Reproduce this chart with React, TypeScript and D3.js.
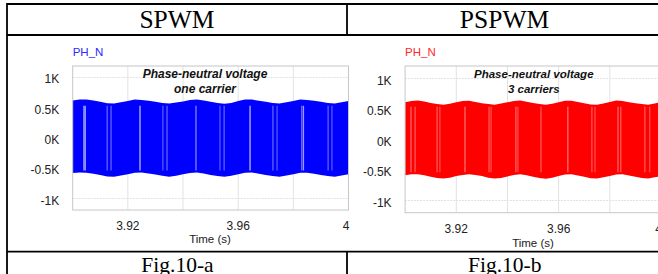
import React, { useEffect, useRef } from "react";
import * as d3 from "d3";

const times = [
  3.9, 3.9025, 3.905, 3.9075, 3.91, 3.9125, 3.915, 3.9175, 3.92, 3.9225,
  3.925, 3.9275, 3.93, 3.9325, 3.935, 3.9375, 3.94, 3.9425, 3.945, 3.9475,
  3.95, 3.9525, 3.955, 3.9575, 3.96, 3.9625, 3.965, 3.9675, 3.97, 3.9725,
  3.975, 3.9775, 3.98, 3.9825, 3.985, 3.9875, 3.99, 3.9925, 3.995, 3.9975, 4.0,
];

// SPWM phase-neutral voltage, upper / lower envelope (kV)
const spwmTop = [
  0.62, 0.635, 0.635, 0.62, 0.6, 0.575, 0.57, 0.59, 0.61, 0.635,
  0.63, 0.615, 0.6, 0.58, 0.57, 0.585, 0.605, 0.63, 0.635, 0.62,
  0.6, 0.58, 0.565, 0.58, 0.61, 0.635, 0.635, 0.615, 0.6, 0.58,
  0.57, 0.59, 0.61, 0.635, 0.63, 0.615, 0.6, 0.58, 0.57, 0.59, 0.61,
];
const spwmBot = [
  -0.58, -0.57, -0.575, -0.59, -0.61, -0.635, -0.64, -0.62, -0.6, -0.575,
  -0.57, -0.585, -0.605, -0.625, -0.64, -0.625, -0.6, -0.58, -0.57, -0.585,
  -0.61, -0.63, -0.64, -0.625, -0.6, -0.575, -0.57, -0.59, -0.61, -0.63,
  -0.64, -0.62, -0.6, -0.575, -0.575, -0.59, -0.61, -0.63, -0.64, -0.62, -0.6,
];

// PSPWM (3 carriers)
const pspwmTop = [
  0.61, 0.63, 0.64, 0.625, 0.6, 0.58, 0.57, 0.585, 0.61, 0.63,
  0.635, 0.615, 0.595, 0.58, 0.57, 0.59, 0.61, 0.63, 0.64, 0.62,
  0.6, 0.58, 0.57, 0.585, 0.61, 0.635, 0.635, 0.615, 0.595, 0.575,
  0.57, 0.59, 0.615, 0.64, 0.63, 0.61, 0.595, 0.58, 0.57, 0.59, 0.61,
];
const pspwmBot = [
  -0.585, -0.57, -0.57, -0.585, -0.61, -0.63, -0.64, -0.625, -0.6, -0.58,
  -0.57, -0.58, -0.6, -0.625, -0.64, -0.63, -0.605, -0.58, -0.57, -0.585,
  -0.61, -0.63, -0.645, -0.625, -0.6, -0.575, -0.57, -0.59, -0.61, -0.635,
  -0.64, -0.62, -0.6, -0.575, -0.57, -0.59, -0.61, -0.63, -0.64, -0.62, -0.6,
];

// lighter vertical gaps in the PWM trains (time, strength)
const spwmGapT = [
  3.9041, 3.9046, 3.9125, 3.9139, 3.9244, 3.9327, 3.9342, 3.9447, 3.9534,
  3.9549, 3.9643, 3.9726, 3.9741, 3.9831, 3.9837, 3.9926, 3.994,
];
const spwmGapA = [
  0.85, 0.6, 0.45, 0.45, 0.85, 0.4, 0.45, 0.6, 0.4, 0.45, 0.85, 0.45, 0.4,
  0.6, 0.6, 0.45, 0.4,
];
const pspwmGapT = [
  3.9023, 3.9039, 3.9125, 3.9136, 3.9234, 3.9328, 3.9336, 3.9433, 3.9441,
  3.9531, 3.9636, 3.973, 3.9742, 3.9832, 3.9843, 3.9937, 3.9956,
];
const pspwmGapA = [
  0.45, 0.4, 0.4, 0.35, 0.5, 0.4, 0.35, 0.45, 0.35, 0.4, 0.5, 0.4, 0.35,
  0.45, 0.4, 0.4, 0.35,
];

const xGrid = [3.92, 3.94, 3.96, 3.98];
const xTicks = [3.92, 3.96, 4];
const xTickLabels = ["3.92", "3.96", "4"];
const yTicks = [1, 0.5, 0, -0.5, -1];
const yTickLabels = ["1K", "0.5K", "0K", "-0.5K", "-1K"];

const SANS = "'Liberation Sans', Arial, sans-serif";
const SERIF = "'Liberation Serif', 'Times New Roman', serif";

interface PanelCfg {
  left: number; right: number; top: number; bottom: number;
  yDomain: [number, number];
  color: string; labelColor: string;
  top_: number[]; bot: number[]; gapT: number[]; gapA: number[];
  title: [string, string]; titleX: number; titleSize: number;
  tickBase: number; timeBase: number; timeX: number;
}

const panels: PanelCfg[] = [
  {
    left: 72.7, right: 348.5, top: 66, bottom: 210, yDomain: [-1.19, 1.19],
    color: "#0000ff", labelColor: "#2a2aff",
    top_: spwmTop, bot: spwmBot, gapT: spwmGapT, gapA: spwmGapA,
    title: ["Phase-neutral voltage", "one carrier"], titleX: 205, titleSize: 12,
    tickBase: 229.5, timeBase: 242.5, timeX: 210,
  },
  {
    left: 405.1, right: 661, top: 66, bottom: 212.7, yDomain: [-1.2, 1.205],
    color: "#ff0000", labelColor: "#ff2a2a",
    top_: pspwmTop, bot: pspwmBot, gapT: pspwmGapT, gapA: pspwmGapA,
    title: ["Phase-neutral voltage", "3 carriers"], titleX: 533.8, titleSize: 11.5,
    tickBase: 232.5, timeBase: 246.5, timeX: 533,
  },
];

function drawPanel(svg: any, p: PanelCfg) {
  const x = d3.scaleLinear().domain([3.9, 4.0]).range([p.left, p.right]);
  const y = d3.scaleLinear().domain(p.yDomain).range([p.bottom, p.top]);
  const g = svg.append("g");

  // grid
  g.selectAll(".gx").data(xGrid).join("line")
    .attr("x1", (d: number) => x(d)).attr("x2", (d: number) => x(d))
    .attr("y1", p.top).attr("y2", p.bottom)
    .attr("stroke", "#e2e2e2").attr("stroke-width", 1);
  g.selectAll(".gy").data(yTicks).join("line")
    .attr("x1", p.left).attr("x2", p.right)
    .attr("y1", (d: number) => y(d)).attr("y2", (d: number) => y(d))
    .attr("stroke", "#e2e2e2").attr("stroke-width", 1)
    .attr("stroke-dasharray", "2,1");

  // the PWM train, drawn as a filled band between the envelopes
  const area = d3.area<number>()
    .x((d, i) => x(times[i]))
    .y0((d, i) => y(p.bot[i]))
    .y1((d) => y(d));
  g.append("path").datum(p.top_).attr("d", area).attr("fill", p.color);

  g.selectAll(".gap").data(p.gapT).join("line")
    .attr("x1", (d: number) => x(d)).attr("x2", (d: number) => x(d))
    .attr("y1", (d: number) => y(d3.min(p.top_)!) + 2)
    .attr("y2", (d: number) => y(d3.max(p.bot)!) - 2)
    .attr("stroke", "#fff").attr("stroke-width", 1.1)
    .attr("stroke-opacity", (d: number, i: number) => p.gapA[i]);

  // frame
  g.append("rect")
    .attr("x", p.left).attr("y", p.top)
    .attr("width", p.right - p.left).attr("height", p.bottom - p.top)
    .attr("fill", "none").attr("stroke", "#c6c6c6").attr("stroke-width", 1);

  // y tick labels
  g.selectAll(".yl").data(yTicks).join("text")
    .attr("x", p.left - 13.5).attr("y", (d: number) => y(d) + 6)
    .attr("text-anchor", "end").attr("font-family", SANS).attr("font-size", 12)
    .attr("fill", "#222")
    .text((d: number, i: number) => yTickLabels[i]);

  // x tick labels
  g.selectAll(".xl").data(xTicks).join("text")
    .attr("x", (d: number, i: number) => (i === xTicks.length - 1 ? x(d) + 1 : x(d)))
    .attr("y", p.tickBase)
    .attr("text-anchor", (d: number, i: number) => (i === xTicks.length - 1 ? "end" : "middle"))
    .attr("font-family", SANS).attr("font-size", 12).attr("fill", "#222")
    .text((d: number, i: number) => xTickLabels[i]);

  g.append("text").attr("x", p.timeX).attr("y", p.timeBase)
    .attr("text-anchor", "middle").attr("font-family", SANS).attr("font-size", 11.5)
    .attr("fill", "#222").text("Time (s)");

  g.append("text").attr("x", p.left).attr("y", 55.8)
    .attr("font-family", SANS).attr("font-size", 11.5).attr("fill", p.labelColor)
    .text("PH_N");

  p.title.forEach((t, i) => {
    g.append("text").attr("x", p.titleX).attr("y", 77.5 + i * 15.5)
      .attr("text-anchor", "middle").attr("font-family", SANS)
      .attr("font-size", p.titleSize).attr("font-weight", "bold")
      .attr("font-style", "italic").attr("fill", "#111").text(t);
  });
}

export default function App() {
  const ref = useRef<SVGSVGElement>(null);

  useEffect(() => {
    const svg = d3.select(ref.current);
    svg.selectAll("*").remove();
    svg.append("rect").attr("width", 658).attr("height", 274).attr("fill", "#fff");

    panels.forEach((p) => drawPanel(svg, p));

    // table around the two figures
    const table = svg.append("g").attr("stroke", "#000").attr("stroke-width", 1.8);
    table.append("line").attr("x1", 7).attr("x2", 658).attr("y1", 4).attr("y2", 4);
    table.append("line").attr("x1", 7).attr("x2", 658).attr("y1", 35).attr("y2", 35);
    table.append("line").attr("x1", 7).attr("x2", 658).attr("y1", 251.7).attr("y2", 251.7);
    table.append("line").attr("x1", 7).attr("x2", 7).attr("y1", 3.1).attr("y2", 274);
    table.append("line").attr("x1", 347).attr("x2", 347).attr("y1", 3.1).attr("y2", 35);
    table.append("line").attr("x1", 347).attr("x2", 347).attr("y1", 251.7).attr("y2", 274);

    const heads = [["SPWM", 177], ["PSPWM", 504.5]];
    heads.forEach(([t, cx]) => {
      svg.append("text").attr("x", cx).attr("y", 28.3).attr("text-anchor", "middle")
        .attr("font-family", SERIF).attr("font-size", 25.5).attr("fill", "#000").text(t as string);
    });
    const figs = [["Fig.10-a", 177.5], ["Fig.10-b", 504.7]];
    figs.forEach(([t, cx]) => {
      svg.append("text").attr("x", cx).attr("y", 271.5).attr("text-anchor", "middle")
        .attr("font-family", SERIF).attr("font-size", 21.5).attr("fill", "#000").text(t as string);
    });
  }, []);

  return (
    <div style={{ position: "absolute", left: 0, top: 0 }}>
      <svg ref={ref} width={658} height={274} style={{ display: "block" }} />
    </div>
  );
}
